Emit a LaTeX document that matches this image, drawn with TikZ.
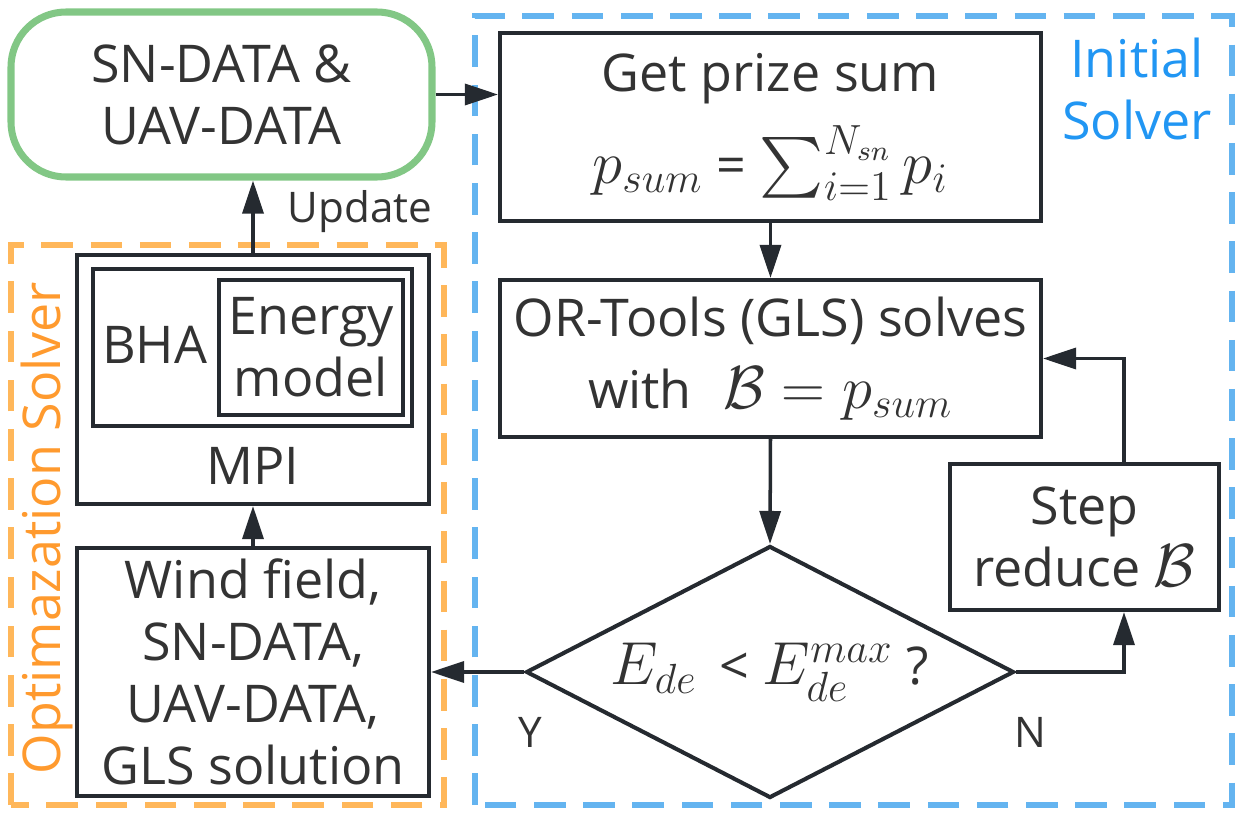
\documentclass[tikz,border=0pt]{standalone}
\usepackage{amsmath}
\usepackage[no-math]{fontspec}
\setmainfont{Open Sans}
\usetikzlibrary{arrows.meta}
\usetikzlibrary{shapes.geometric}

\definecolor{linecol}{HTML}{252A30}
\definecolor{txtcol}{HTML}{333333}
\definecolor{datagreen}{HTML}{82C785}
\definecolor{optorange}{HTML}{FFB75A}
\definecolor{opttext}{HTML}{FF9A2E}
\definecolor{initblue}{HTML}{64B4F0}
\definecolor{inittext}{HTML}{2196F3}
\newcommand{\mth}[1]{{\fontsize{17}{20}\selectfont$#1$}}

\begin{document}
\begin{tikzpicture}[font=\fontsize{14.8}{17.6}\selectfont,
  box/.style={draw=linecol, line width=1.15pt, text=txtcol, align=center, inner sep=0pt},
  arr/.style={draw=linecol, line width=1pt, -{Triangle[length=3.3mm,width=2.1mm]}},
  lbl/.style={text=txtcol, inner sep=0pt, font=\fontsize{12}{14}\selectfont},
  frame/.style={line width=1.7pt, dash pattern=on 9pt off 5pt}]
\useasboundingbox (0,0) rectangle (12.4,8.16);
\draw[frame, optorange] (0.11,0.11) rectangle (4.44,5.71);
\draw[frame, initblue] (4.75,0.11) rectangle (12.32,8.00);
\node[rotate=90, text=opttext] (opttitle) at (0.47,2.88) {Optimazation Solver};
\node[text=inittext, align=center] (inittitle) at (11.37,7.27) {Initial\\Solver};

\node[draw=datagreen, line width=2pt, rounded corners=0.55cm, minimum width=4.21cm, minimum height=1.65cm, text=txtcol, align=center] (data) at (2.215,7.215) {SN-DATA \&\\UAV-DATA};
\node[box, minimum width=5.41cm, minimum height=1.88cm] (prize) at (7.705,6.89) {Get prize sum\\[5pt]\mth{p_{sum}} = \mth{\sum\nolimits_{i=1}^{N_{sn}} p_i}};
\node[box, minimum width=5.41cm, minimum height=1.57cm] (ortools) at (7.705,4.575) {OR-Tools (GLS) solves\\[3pt]with\hspace{0.6em}\mth{\mathcal{B}=p_{sum}}};
\node[box, diamond, aspect=1.94, minimum width=4.88cm, minimum height=2.52cm] (dia) at (7.70,1.44) {\mth{E_{de}}\ \,<\ \mth{E_{de}^{max}} ?};
\node[box, minimum width=2.69cm, minimum height=1.46cm] (step) at (10.845,2.79) {Step\\reduce \mth{\mathcal{B}}};
\node[box, minimum width=3.52cm, minimum height=2.48cm] (wind) at (2.53,1.44) {Wind field,\\SN-DATA,\\UAV-DATA,\\GLS solution};
\node[box, minimum width=3.52cm, minimum height=2.49cm] (mpi) at (2.53,4.365) {};
\node[box, minimum width=3.19cm, minimum height=1.57cm] (bha) at (2.525,4.685) {};
\node[box, minimum width=1.84cm, minimum height=1.35cm] (energy) at (3.11,4.685) {Energy\\model};
\node[text=txtcol] (bhatxt) at (1.545,4.71) {BHA};
\node[text=txtcol] (mpitxt) at (2.53,3.505) {MPI};

\node[lbl, anchor=base west] (upd) at (2.87,5.94) {Update};
\node[lbl, anchor=base] (ylbl) at (5.30,0.69) {Y};
\node[lbl, anchor=base] (nlbl) at (10.30,0.69) {N};

\draw[arr] (data.east) -- (prize.west |- data.east);
\draw[arr] (mpi.north) -- (mpi.north |- data.south);
\draw[arr] (prize.south) -- (ortools.north);
\draw[arr] (ortools.south) -- (dia.north);
\draw[arr] (dia.west) -- (wind.east);
\draw[arr] (wind.north) -- (mpi.south);
\coordinate (loop) at (11.24,0);
\draw[arr] (dia.east) -| (loop |- step.south);
\draw[arr] (loop |- step.north) |- (ortools.east);
\end{tikzpicture}
\end{document}
